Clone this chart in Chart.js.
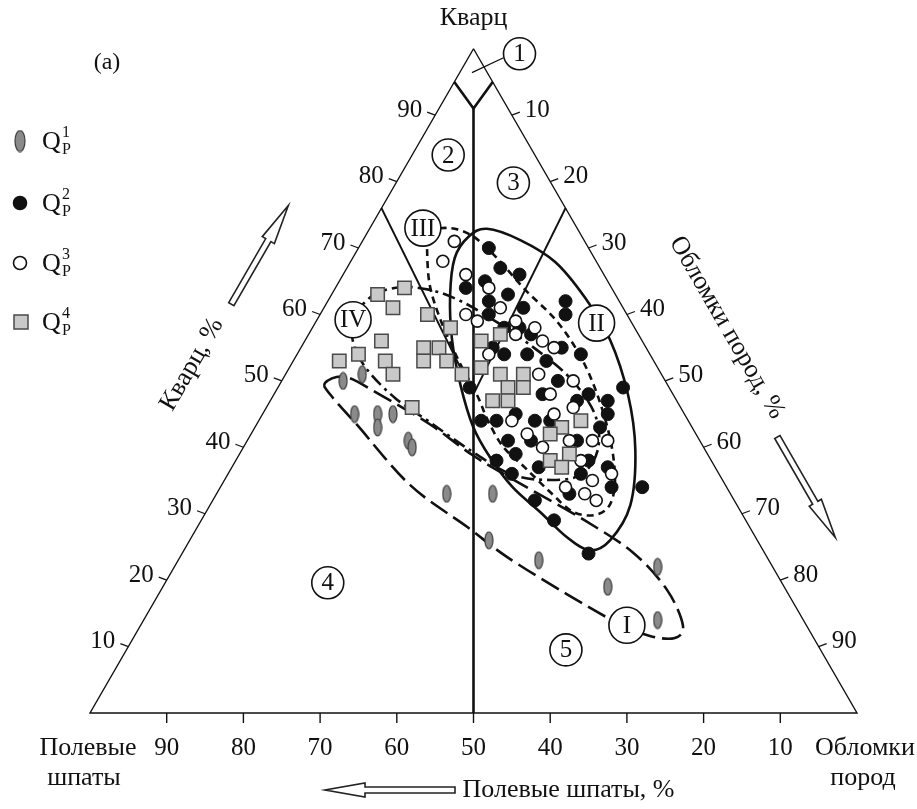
<!DOCTYPE html>
<html>
<head>
<meta charset="utf-8">
<script src="https://cdn.jsdelivr.net/npm/chart.js@4.4.1/dist/chart.umd.min.js"></script>
<style>
  html, body { margin: 0; padding: 0; background: #fff; }
  #wrap { width: 917px; height: 809px; position: relative; }
</style>
</head>
<body>
<div id="wrap"><canvas id="ternary"></canvas></div>
<script>
// samples as [quartz, feldspar, rock fragments], %
const qp1 = [[50,42,8],[51,39,10],[45,43,12],[45,40,15],[43,41,16],[45,38,17],[41,38,21],[40,38,22],
  [33,37,30],[33,31,36],[26,35,39],[23,30,47],[19,23,58],[22,15,63],[14,19,67]];
const qp2 = [[70,13,17],[67,13,20],[66,11,23],[64,19,17],[65,16,19],[63,14,23],[62,17,21],[62,7,31],
  [61,13,26],[60,8,32],[60,18,22],[58,15,27],[58,17,25],[57,14,29],[54,9,37],[53,14,33],[54,16,30],
  [54,19,27],[55,20,25],[55,11,34],[49,26,25],[49,6,45],[48,11,41],[47,9,44],[47,13,40],[45,22,33],
  [44,25,31],[44,27,29],[44,20,36],[44,18,38],[43,12,45],[41,22,37],[41,25,34],[39,25,36],[41,16,43],
  [38,16,46],[38,28,34],[36,27,37],[37,23,40],[36,18,46],[37,14,49],[34,15,51],[34,11,55],[33,21,46],
  [32,26,42],[29,25,46],[24,23,53],[45,10,45],[50,14,36],[48,17,35],[51,18,31]];
const qp3 = [[71,17,12],[68,20,12],[66,18,16],[64,16,20],[61,16,23],[60,21,19],[59,20,21],[58,13,29],
  [59,15,26],[56,13,31],[55,12,33],[54,21,25],[51,16,33],[50,12,38],[48,16,36],[45,17,38],[46,14,40],
  [44,23,33],[42,22,36],[41,14,45],[41,12,47],[41,17,42],[38,17,45],[40,21,39],[36,14,50],[35,17,48],
  [34,21,45],[33,19,48],[32,18,50],[57,16,27]];
const qp4 = [[63,31,6],[64,27,9],[61,30,9],[60,26,14],[58,24,18],[56,34,10],[53,41,6],[54,38,8],
  [53,35,12],[51,35,14],[55,29,16],[55,27,18],[53,30,17],[53,27,20],[51,26,23],[46,35,19],[56,21,23],
  [57,18,25],[52,23,25],[51,21,28],[51,18,31],[49,21,30],[49,19,32],[47,24,29],[47,22,31],[44,14,42],
  [43,17,40],[42,19,39],[39,18,43],[38,21,41],[37,20,43]];

const seriesNumbers = ['1', '2', '3', '4'];
const tickValues = [10, 20, 30, 40, 50, 60, 70, 80, 90];

// classification boundaries, [quartz, feldspar, rock fragments]
const medianLine = [[91,4.5,4.5],[0,50,50]];
const forkLine = [[95,5,0],[91,4.5,4.5],[95,0,5]];
const leftLine = [[76,24,0],[48,26,26]];
const rightLine = [[76,0,24],[48,26,26]];

// outlines of the sample groups, [quartz, rock fragments] (feldspar is the rest)
const groupI = [[49.7,5.8],[50.6,8.0],[47.9,13.9],[43.4,22.7],[38.8,30.5],[34.8,38.3],[29.1,49.8],
  [24.1,58.8],[18.5,66.0],[13.2,70.7],[11.3,70.6],[11.6,67.2],[13.6,61.9],[17.9,53.2],[23.5,42.6],
  [28.0,35.2],[34.3,24.6],[43.4,13.1],[47.9,7.4]];
const groupII = [[72.9,15.3],[71.2,20.5],[67.9,26.7],[62.5,33.3],[56.2,39.7],[47.9,46.2],[39.6,51.3],
  [31.3,54.8],[26.0,54.8],[24.5,52.9],[26.5,48.9],[30.3,43.5],[34.0,38.1],[38.5,32.9],[43.1,28.4],
  [49.4,23.6],[56.2,19.1],[62.9,15.5],[68.5,13.3],[71.7,13.5]];
const groupIII = [[72.4,7.9],[73.0,10.4],[71.8,14.0],[68.5,18.8],[63.7,24.9],[59.2,31.1],[53.9,36.9],
  [47.9,42.2],[41.1,47.3],[35.1,50.9],[31.3,52.1],[29.8,50.9],[30.3,47.8],[33.3,43.3],[36.9,38.3],
  [40.1,33.8],[44.1,29.8],[47.9,26.5],[53.2,21.4],[59.2,16.1],[64.4,12.1],[69.7,9.1]];
const groupIV = [[59.2,4.7],[62.8,5.4],[64.1,8.4],[63.7,12.5],[62.2,16.9],[59.5,22.4],[55.4,29.7],
  [50.4,37.4],[44.9,43.4],[39.6,46.4],[35.8,46.0],[35.1,41.8],[36.0,36.8],[39.6,29.7],[43.8,22.4],
  [47.4,16.1],[51.6,10.4],[55.4,6.7]];

// field and group labels, [quartz, rock fragments]
const fieldLabels = [['2',84.0,4.7],['3',79.8,15.3],['4',19.6,21.2],['5',9.5,57.3]];
const groupLabels = [['I',13.2,63.4],['II',58.7,36.7],['III',73.0,6.9],['IV',59.2,4.7]];

const SQ3 = Math.sqrt(3) / 2;
const SERIF = '"Liberation Serif", "Times New Roman", serif';
// triangle placement on the canvas
const LEFT_PX = 90, BASE_PX = 713, SIDE_PX = 767, W = 917, H = 809;
const unit = SIDE_PX / 100;

function tern(a) {
  const s = a[0] + a[1] + a[2];
  return { x: (a[2] + a[0] / 2) / s * 100, y: a[0] / s * 100 * SQ3 };
}

// gray elliptic marker for Q_P^1
function ellipseMarker(w, h) {
  const cv = document.createElement('canvas');
  cv.width = w + 2; cv.height = h + 2;
  const g = cv.getContext('2d');
  g.beginPath();
  g.ellipse(cv.width / 2, cv.height / 2, w / 2, h / 2, 0, 0, Math.PI * 2);
  g.fillStyle = '#8a8a8a'; g.fill();
  g.lineWidth = 1.2; g.strokeStyle = '#3a3a3a'; g.stroke();
  return cv;
}
const grayMark = ellipseMarker(8, 17);
const legendMark = ellipseMarker(10, 21);

function lineSet(pts, width) {
  return { data: pts.map(tern), showLine: true, pointRadius: 0, borderColor: '#111',
    borderWidth: width, tension: 0, fill: false };
}

function closedSpline(ctx, pts) {
  const n = pts.length;
  ctx.beginPath();
  ctx.moveTo(pts[0].x, pts[0].y);
  for (let i = 0; i < n; i++) {
    const p0 = pts[(i - 1 + n) % n], p1 = pts[i], p2 = pts[(i + 1) % n], p3 = pts[(i + 2) % n];
    ctx.bezierCurveTo(p1.x + (p2.x - p0.x) / 6, p1.y + (p2.y - p0.y) / 6,
      p2.x - (p3.x - p1.x) / 6, p2.y - (p3.y - p1.y) / 6, p2.x, p2.y);
  }
  ctx.closePath();
  ctx.stroke();
}

// open (outlined) arrow from tail to tip
function hollowArrow(ctx, tx, ty, hx, hy) {
  const len = Math.hypot(hx - tx, hy - ty);
  const ang = Math.atan2(hy - ty, hx - tx);
  const headLen = 40, headW = 7, shaftW = 3;
  ctx.save();
  ctx.translate(tx, ty);
  ctx.rotate(ang);
  ctx.beginPath();
  ctx.moveTo(0, -shaftW);
  ctx.lineTo(len - headLen, -shaftW);
  ctx.lineTo(len - headLen, -headW);
  ctx.lineTo(len, 0);
  ctx.lineTo(len - headLen, headW);
  ctx.lineTo(len - headLen, shaftW);
  ctx.lineTo(0, shaftW);
  ctx.closePath();
  ctx.fillStyle = '#fff'; ctx.fill();
  ctx.lineWidth = 1.6; ctx.strokeStyle = '#222'; ctx.stroke();
  ctx.restore();
}

const decor = {
  id: 'ternaryDecor',
  beforeDatasetsDraw(chart) {
    const ctx = chart.ctx, xs = chart.scales.x, ys = chart.scales.y;
    const P = (a) => ({ x: xs.getPixelForValue(a[1] + a[0] / 2), y: ys.getPixelForValue(a[0] * SQ3) });
    ctx.save();
    ctx.strokeStyle = '#111';
    ctx.lineWidth = 2.6;
    ctx.setLineDash([20, 7]);
    closedSpline(ctx, groupI.map(P));
    ctx.setLineDash([]);
    closedSpline(ctx, groupII.map(P));
    ctx.setLineDash([7, 5]);
    closedSpline(ctx, groupIII.map(P));
    ctx.setLineDash([13, 5, 3, 5]);
    closedSpline(ctx, groupIV.map(P));
    ctx.restore();
  },
  afterDatasetsDraw(chart) {
    const ctx = chart.ctx, xs = chart.scales.x, ys = chart.scales.y;
    const T = (q, f, r) => { const p = tern([q, f, r]); return { x: xs.getPixelForValue(p.x), y: ys.getPixelForValue(p.y) }; };
    const P = (q, r) => T(q, 100 - q - r, r);
    const top = T(100, 0, 0), left = T(0, 100, 0), right = T(0, 0, 100);
    ctx.save();
    ctx.fillStyle = '#111';
    ctx.strokeStyle = '#111';
    ctx.textBaseline = 'middle';

    const txt = (s, x, y, align, size) => {
      ctx.font = size + 'px ' + SERIF;
      ctx.textAlign = align;
      ctx.fillText(s, x, y);
    };
    const seg = (x1, y1, x2, y2, w) => {
      ctx.lineWidth = w;
      ctx.beginPath(); ctx.moveTo(x1, y1); ctx.lineTo(x2, y2); ctx.stroke();
    };
    const circled = (s, p, r, size) => {
      ctx.beginPath(); ctx.arc(p.x, p.y, r, 0, Math.PI * 2);
      ctx.fillStyle = '#fff'; ctx.fill();
      ctx.lineWidth = 1.6; ctx.stroke();
      ctx.fillStyle = '#111';
      txt(s, p.x, p.y + 1, 'center', size);
    };

    // ticks and tick labels
    tickValues.forEach(v => {
      let p = T(v, 100 - v, 0);
      seg(p.x, p.y, p.x - 8, p.y - 3, 1.2);
      txt(String(v), p.x - 13, p.y - 5, 'right', 25);
      p = T(100 - v, 0, v);
      seg(p.x, p.y, p.x + 8, p.y - 3, 1.2);
      txt(String(v), p.x + 13, p.y - 5, 'left', 25);
      p = T(0, v, 100 - v);
      seg(p.x, p.y, p.x, p.y + 10, 1.4);
      txt(String(v), p.x, p.y + 35, 'center', 25);
    });

    // field 1 leader line and label
    const c1 = { x: top.x + 46, y: top.y + 5 };
    const inside = P(96.4, 1.6);
    seg(c1.x - 16, c1.y + 4, inside.x, inside.y, 1.3);
    circled('1', c1, 16, 25);
    fieldLabels.forEach(([s, q, r]) => circled(s, P(q, r), 16, 25));
    groupLabels.forEach(([s, q, r]) => circled(s, P(q, r), 18, 25));

    // vertex and axis titles
    txt('Кварц', top.x, top.y - 31, 'center', 26);
    txt('Полевые', left.x - 2, left.y + 35, 'center', 26);
    txt('шпаты', left.x - 6, left.y + 65, 'center', 26);
    txt('Обломки', right.x + 8, right.y + 35, 'center', 26);
    txt('пород', right.x + 6, right.y + 65, 'center', 26);
    txt('Полевые шпаты, %', (left.x + right.x) / 2 - 11, left.y + 77, 'left', 26);
    txt('(a)', left.x + 17, top.y + 14, 'center', 24);

    // rotated edge titles, placed outside the edge midpoints
    const side = Math.hypot(right.x - left.x, right.y - left.y);
    const along = (a, b, t) => ({ x: a.x + (b.x - a.x) * t, y: a.y + (b.y - a.y) * t });
    let m = along(left, top, 0.46);
    ctx.save();
    ctx.translate(m.x - 0.866 * 86, m.y - 0.5 * 86);
    ctx.rotate(-Math.PI / 3);
    txt('Кварц, %', 0, 0, 'center', 26);
    ctx.restore();
    m = along(top, right, 0.48);
    ctx.save();
    ctx.translate(m.x + 0.866 * 80, m.y - 0.5 * 80);
    ctx.rotate(Math.PI / 3);
    txt('Обломки пород, %', 0, 0, 'center', 26);
    ctx.restore();

    // direction arrows
    let a0 = along(left, top, 0.628 - 57 / side), a1 = along(left, top, 0.628 + 57 / side);
    hollowArrow(ctx, a0.x - 0.866 * 82, a0.y - 0.5 * 82, a1.x - 0.866 * 82, a1.y - 0.5 * 82);
    a0 = along(top, right, 0.712 - 58 / side); a1 = along(top, right, 0.712 + 58 / side);
    hollowArrow(ctx, a0.x + 0.866 * 69, a0.y - 0.5 * 69, a1.x + 0.866 * 69, a1.y - 0.5 * 69);
    hollowArrow(ctx, left.x + 365, left.y + 77, left.x + 235, left.y + 77);

    // legend
    const ly = [141, 203, 263, 322];
    seriesNumbers.forEach((n, i) => {
      const y = ly[i];
      if (i === 0) {
        ctx.drawImage(legendMark, 20 - legendMark.width / 2, y - legendMark.height / 2);
      } else if (i === 3) {
        ctx.fillStyle = '#c9c9c9';
        ctx.fillRect(14, y - 7, 14, 14);
        ctx.lineWidth = 1.5; ctx.strokeStyle = '#4a4a4a';
        ctx.strokeRect(14, y - 7, 14, 14);
      } else {
        ctx.beginPath(); ctx.arc(20, y, 6.5, 0, Math.PI * 2);
        ctx.fillStyle = i === 1 ? '#111' : '#fff'; ctx.fill();
        ctx.lineWidth = 1.6; ctx.strokeStyle = '#111'; ctx.stroke();
      }
      ctx.fillStyle = '#111'; ctx.strokeStyle = '#111';
      txt('Q', 42, y + 1, 'left', 26);
      txt(n, 62, y - 8, 'left', 16);
      txt('P', 62, y + 9, 'left', 16);
    });
    ctx.restore();
  }
};

new Chart(document.getElementById('ternary'), {
  type: 'scatter',
  data: {
    datasets: [
      { label: 'Q_P^4', data: qp4.map(tern), pointStyle: 'rect', pointRadius: 9.5,
        backgroundColor: '#c9c9c9', borderColor: '#4a4a4a', borderWidth: 1.5 },
      { label: 'Q_P^3', data: qp3.map(tern), pointRadius: 6,
        backgroundColor: '#fff', borderColor: '#111', borderWidth: 1.6 },
      { label: 'Q_P^2', data: qp2.map(tern), pointRadius: 6.5,
        backgroundColor: '#111', borderColor: '#111', borderWidth: 1 },
      { label: 'Q_P^1', data: qp1.map(tern), pointStyle: grayMark, pointRadius: 6 },
      lineSet(leftLine, 2),
      lineSet(rightLine, 2),
      lineSet(forkLine, 2.6),
      lineSet(medianLine, 2.6),
      lineSet([[100,0,0],[0,100,0],[0,0,100],[100,0,0]], 1.4)
    ]
  },
  options: {
    responsive: true,
    maintainAspectRatio: false,
    animation: false,
    events: [],
    layout: { padding: 0, autoPadding: false },
    plugins: { legend: { display: false }, title: { display: false }, tooltip: { enabled: false } },
    scales: {
      x: { type: 'linear', display: false, min: -LEFT_PX / unit, max: (W - LEFT_PX) / unit },
      y: { type: 'linear', display: false, min: (BASE_PX - H) / unit, max: BASE_PX / unit }
    }
  },
  plugins: [decor]
});
</script>
</body>
</html>
